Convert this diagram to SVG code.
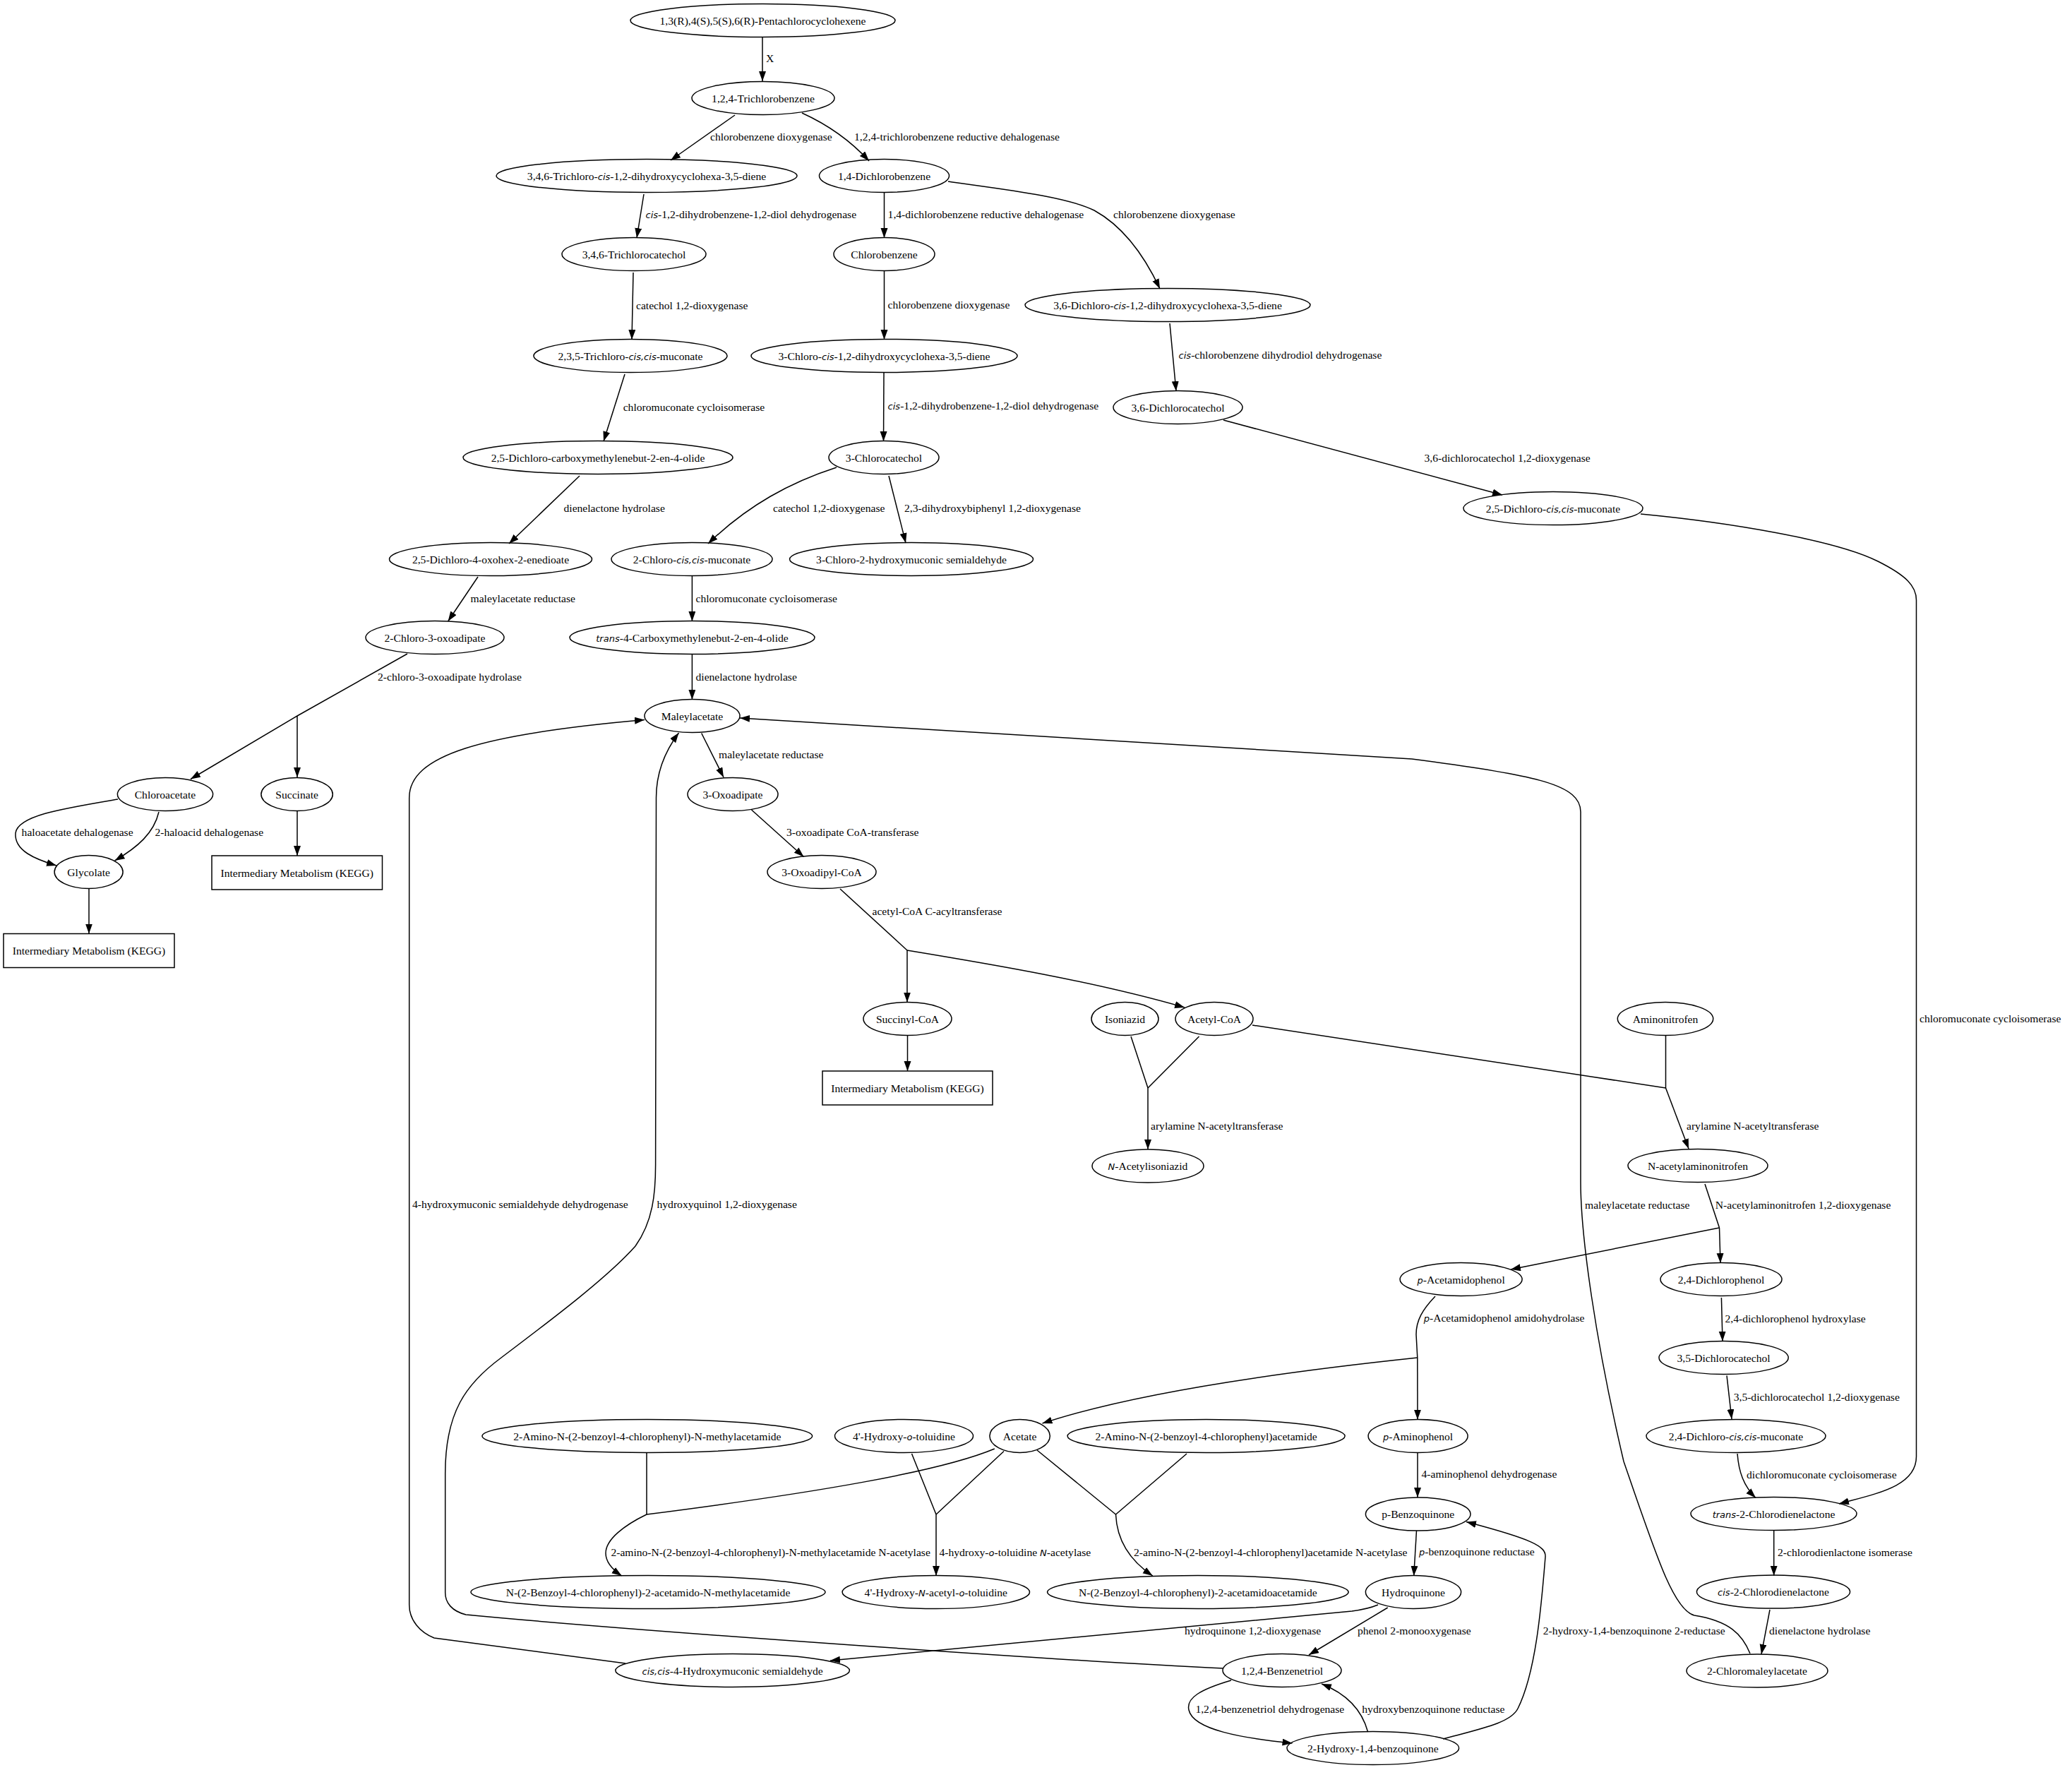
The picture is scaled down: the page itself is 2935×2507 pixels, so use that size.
<svg xmlns="http://www.w3.org/2000/svg" width="2935" height="2507" viewBox="0 0 2935 2507">
<defs>
<marker id="ah" markerUnits="userSpaceOnUse" markerWidth="16" markerHeight="12" refX="14" refY="5" orient="auto">
<path d="M0,0 L14,5 L0,10 z" fill="#000"/>
</marker>
</defs>
<style>
text{font-family:"Liberation Serif","Times New Roman",serif;font-size:15.6px;fill:#000}
.node text{text-anchor:middle}
.node ellipse,.node rect{fill:none;stroke:#000;stroke-width:1.5}
.i{font-family:"DejaVu Sans","Liberation Sans",sans-serif;font-style:italic;font-size:13px}
#edges path{fill:none;stroke:#000;stroke-width:1.5}
#edges path.a{marker-end:url(#ah)}
</style>
<rect width="2935" height="2507" fill="#fff"/>
<g id="edges">
<path class="a" d="M1080,53 L1080,115"/>
<path class="a" d="M1041,163 L950,227"/>
<path class="a" d="M1136,160 C1180,180 1210,205 1231,228"/>
<path class="a" d="M912,275 L902,337"/>
<path class="a" d="M1252.5,273 L1252.5,337"/>
<path class="a" d="M1343,257 C1420,268 1510,278 1550,298 C1590,320 1620,360 1643,409"/>
<path class="a" d="M897,386 L895,481"/>
<path class="a" d="M1252.5,384 L1252.5,481"/>
<path class="a" d="M1657,458 L1666,554"/>
<path class="a" d="M885,530 L855,625"/>
<path class="a" d="M1252,528 L1251.5,625"/>
<path class="a" d="M1733,595 L2128,701"/>
<path class="a" d="M821,674 L721,770"/>
<path class="a" d="M1185,662 C1120,683 1060,715 1003,770"/>
<path class="a" d="M1259,674 L1283,769"/>
<path class="a" d="M2324,728 C2450,740 2600,765 2660,795 C2700,815 2714.5,830 2714.5,850 L2714.5,2063 C2714.5,2105 2660,2115 2605,2130"/>
<path class="a" d="M677,817 L634.6,880"/>
<path class="a" d="M980.4,816 L980.4,880"/>
<path class="a" d="M577,926 L421,1014 L270,1103.5"/>
<path class="a" d="M421,1014 L421,1101"/>
<path class="a" d="M980.4,927 L980.4,991"/>
<path class="a" d="M167,1132 C90,1145 25,1155 22,1180 C20,1205 50,1217 80,1226"/>
<path class="a" d="M225,1150 C218,1180 195,1200 162.6,1219"/>
<path class="a" d="M421,1149 L421,1212"/>
<path class="a" d="M993.7,1038.5 L1025,1101"/>
<path class="a" d="M126,1259 L126,1322.5"/>
<path class="a" d="M1064.5,1147 L1138.5,1213.5"/>
<path d="M1190,1259 L1285,1346"/>
<path class="a" d="M1285,1346 L1285,1419.5"/>
<path class="a" d="M1285,1346 C1400,1365 1550,1390 1678,1427"/>
<path class="a" d="M1285.5,1466.5 L1285.5,1517"/>
<path d="M1602,1468 L1626,1541 M1698.5,1468 L1626,1541"/>
<path class="a" d="M1626,1541 L1626,1628"/>
<path d="M1774,1452 L2359.5,1541 M2359.5,1467 L2359.5,1541"/>
<path class="a" d="M2359.5,1541 L2392,1627"/>
<path class="a" d="M2479,2342 C2468,2315 2450,2296 2400,2288 C2370,2280 2345,2200 2300,2070 C2260,1900 2239,1750 2239,1674 L2239,1150 C2239,1112 2180,1098 2000,1075 L1048,1017"/>
<path d="M2415,1677 L2435.5,1739"/>
<path class="a" d="M2435.5,1739 L2437,1789"/>
<path class="a" d="M2435.5,1739 L2140,1798"/>
<path class="a" d="M2438.4,1838 L2440,1899.7"/>
<path class="a" d="M2446,1948.4 L2453,2010"/>
<path class="a" d="M2461,2059 C2463,2085 2470,2105 2487,2121.5"/>
<path class="a" d="M2512.7,2168 L2512.7,2231.8"/>
<path class="a" d="M2507,2280 L2495,2343"/>
<path d="M2033,1836 C2015,1855 2006,1870 2006,1890 L2007.8,1923"/>
<path class="a" d="M2007.8,1923 L2008,2010.7"/>
<path class="a" d="M2007.8,1923 C1800,1945 1600,1975 1476.5,2016"/>
<path class="a" d="M2008,2057.5 L2008,2121"/>
<path class="a" d="M2006.5,2168 L2002.7,2232"/>
<path d="M1408.8,2052 C1330,2085 1150,2115 916,2145 M916,2058 L916,2145"/>
<path class="a" d="M916,2145 C885,2160 858,2180 858,2200 C858,2212 866,2222 880.7,2232"/>
<path d="M1291.5,2059 L1326,2145 M1422,2055.5 L1326,2145"/>
<path class="a" d="M1326,2145 L1326,2232"/>
<path d="M1469,2054 L1580.5,2145 M1681,2059 L1580.5,2145"/>
<path class="a" d="M1580.5,2145 C1582,2180 1600,2210 1632.8,2232"/>
<path class="a" d="M1952,2273 C1940,2278 1930,2280 1915,2282 L1176,2352"/>
<path class="a" d="M1965.7,2277 L1854,2344"/>
<path class="a" d="M1733,2363 C1500,2352 900,2310 660,2287 C640,2282 630.7,2270 630.7,2256 L630.7,2087 C630.7,2000 660,1960 710,1923 C780,1870 860,1810 900,1765 C925,1730 928.6,1690 928.6,1650 L929.5,1130 C929.5,1090 945,1060 961.5,1038"/>
<path class="a" d="M886,2356 L615,2320 C595,2312 579.7,2295 579.7,2273 L579.7,1130 C579.7,1070 680,1040 913,1019.5"/>
<path class="a" d="M2044,2463 C2100,2448 2140,2440 2150,2420 C2175,2370 2183,2280 2189,2205 C2190,2190 2170,2180 2077,2155.5"/>
<path class="a" d="M1744,2380 C1700,2393 1680,2405 1684,2422 C1690,2450 1760,2462 1830.5,2469"/>
<path class="a" d="M1937.6,2453 C1930,2425 1910,2400 1872,2385"/>
</g>
<g id="edge-labels">
<text x="1085" y="88">X</text>
<text x="1006" y="199">chlorobenzene dioxygenase</text>
<text x="1210" y="199">1,2,4-trichlorobenzene reductive dehalogenase</text>
<text x="914.5" y="308.5"><tspan class="i">cis</tspan>-1,2-dihydrobenzene-1,2-diol dehydrogenase</text>
<text x="1257.6" y="309">1,4-dichlorobenzene reductive dehalogenase</text>
<text x="1577" y="309">chlorobenzene dioxygenase</text>
<text x="901" y="437.5">catechol 1,2-dioxygenase</text>
<text x="1257.6" y="437">chlorobenzene dioxygenase</text>
<text x="1669.6" y="507.5"><tspan class="i">cis</tspan>-chlorobenzene dihydrodiol dehydrogenase</text>
<text x="882.7" y="581.7">chloromuconate cycloisomerase</text>
<text x="1257.6" y="579.5"><tspan class="i">cis</tspan>-1,2-dihydrobenzene-1,2-diol dehydrogenase</text>
<text x="2017.5" y="653.5">3,6-dichlorocatechol 1,2-dioxygenase</text>
<text x="798.5" y="725.3">dienelactone hydrolase</text>
<text x="1095" y="725.3">catechol 1,2-dioxygenase</text>
<text x="1281" y="725">2,3-dihydroxybiphenyl 1,2-dioxygenase</text>
<text x="2719" y="1448">chloromuconate cycloisomerase</text>
<text x="666.5" y="852.7">maleylacetate reductase</text>
<text x="985.5" y="852.7">chloromuconate cycloisomerase</text>
<text x="535" y="963.8">2-chloro-3-oxoadipate hydrolase</text>
<text x="985.5" y="963.8">dienelactone hydrolase</text>
<text x="30.6" y="1184.4">haloacetate dehalogenase</text>
<text x="219.4" y="1184.4">2-haloacid dehalogenase</text>
<text x="1018" y="1073.8">maleylacetate reductase</text>
<text x="1114" y="1184.4">3-oxoadipate CoA-transferase</text>
<text x="1235.5" y="1295.5">acetyl-CoA C-acyltransferase</text>
<text x="1630" y="1600">arylamine N-acetyltransferase</text>
<text x="2389" y="1600">arylamine N-acetyltransferase</text>
<text x="2245" y="1711.8">maleylacetate reductase</text>
<text x="2429.8" y="1711.8">N-acetylaminonitrofen 1,2-dioxygenase</text>
<text x="2443.5" y="1872.5">2,4-dichlorophenol hydroxylase</text>
<text x="2455.7" y="1983.6">3,5-dichlorocatechol 1,2-dioxygenase</text>
<text x="2474" y="2093.5">dichloromuconate cycloisomerase</text>
<text x="2518" y="2204">2-chlorodienlactone isomerase</text>
<text x="2506" y="2315">dienelactone hydrolase</text>
<text x="2016.7" y="1872"><tspan class="i">p</tspan>-Acetamidophenol amidohydrolase</text>
<text x="2013.5" y="2093">4-aminophenol dehydrogenase</text>
<text x="2010" y="2203"><tspan class="i">p</tspan>-benzoquinone reductase</text>
<text x="865.4" y="2204">2-amino-N-(2-benzoyl-4-chlorophenyl)-N-methylacetamide N-acetylase</text>
<text x="1330.4" y="2204">4-hydroxy-<tspan class="i">o</tspan>-toluidine <tspan class="i">N</tspan>-acetylase</text>
<text x="1606" y="2204">2-amino-N-(2-benzoyl-4-chlorophenyl)acetamide N-acetylase</text>
<text x="1678" y="2315">hydroquinone 1,2-dioxygenase</text>
<text x="1923" y="2315">phenol 2-monooxygenase</text>
<text x="930.5" y="1711">hydroxyquinol 1,2-dioxygenase</text>
<text x="584" y="1711">4-hydroxymuconic semialdehyde dehydrogenase</text>
<text x="2185.7" y="2315">2-hydroxy-1,4-benzoquinone 2-reductase</text>
<text x="1693.4" y="2425.6">1,2,4-benzenetriol dehydrogenase</text>
<text x="1929.3" y="2425.6">hydroxybenzoquinone reductase</text>
</g>
<g id="n1" class="node"><ellipse cx="1080.5" cy="29" rx="187.5" ry="23.5"/><text x="1080.5" y="34.5">1,3(R),4(S),5(S),6(R)-Pentachlorocyclohexene</text></g>
<g id="n2" class="node"><ellipse cx="1081" cy="139" rx="101" ry="23.5"/><text x="1081" y="144.5">1,2,4-Trichlorobenzene</text></g>
<g id="n3" class="node"><ellipse cx="916" cy="249" rx="213" ry="23.5"/><text x="916" y="254.5">3,4,6-Trichloro-<tspan class="i">cis</tspan>-1,2-dihydroxycyclohexa-3,5-diene</text></g>
<g id="n4" class="node"><ellipse cx="1252.5" cy="249" rx="92" ry="23.5"/><text x="1252.5" y="254.5">1,4-Dichlorobenzene</text></g>
<g id="n5" class="node"><ellipse cx="898" cy="360" rx="102" ry="23.5"/><text x="898" y="365.5">3,4,6-Trichlorocatechol</text></g>
<g id="n6" class="node"><ellipse cx="1252.5" cy="360" rx="71.5" ry="23.5"/><text x="1252.5" y="365.5">Chlorobenzene</text></g>
<g id="n7" class="node"><ellipse cx="1654" cy="432" rx="202" ry="23.5"/><text x="1654" y="437.5">3,6-Dichloro-<tspan class="i">cis</tspan>-1,2-dihydroxycyclohexa-3,5-diene</text></g>
<g id="n8" class="node"><ellipse cx="893" cy="504" rx="137" ry="23.5"/><text x="893" y="509.5">2,3,5-Trichloro-<tspan class="i">cis,cis</tspan>-muconate</text></g>
<g id="n9" class="node"><ellipse cx="1252.5" cy="504" rx="188.5" ry="23.5"/><text x="1252.5" y="509.5">3-Chloro-<tspan class="i">cis</tspan>-1,2-dihydroxycyclohexa-3,5-diene</text></g>
<g id="n10" class="node"><ellipse cx="1668.5" cy="577" rx="91.5" ry="23.5"/><text x="1668.5" y="582.5">3,6-Dichlorocatechol</text></g>
<g id="n11" class="node"><ellipse cx="847" cy="648" rx="191" ry="23.5"/><text x="847" y="653.5">2,5-Dichloro-carboxymethylenebut-2-en-4-olide</text></g>
<g id="n12" class="node"><ellipse cx="1252" cy="648" rx="78" ry="23.5"/><text x="1252" y="653.5">3-Chlorocatechol</text></g>
<g id="n13" class="node"><ellipse cx="2200" cy="720" rx="127" ry="23.5"/><text x="2200" y="725.5">2,5-Dichloro-<tspan class="i">cis,cis</tspan>-muconate</text></g>
<g id="n14" class="node"><ellipse cx="695" cy="792" rx="143.5" ry="23.5"/><text x="695" y="797.5">2,5-Dichloro-4-oxohex-2-enedioate</text></g>
<g id="n15" class="node"><ellipse cx="980" cy="792" rx="114" ry="23.5"/><text x="980" y="797.5">2-Chloro-<tspan class="i">cis,cis</tspan>-muconate</text></g>
<g id="n16" class="node"><ellipse cx="1291" cy="792" rx="172.5" ry="23.5"/><text x="1291" y="797.5">3-Chloro-2-hydroxymuconic semialdehyde</text></g>
<g id="n17" class="node"><ellipse cx="616" cy="903" rx="98" ry="23.5"/><text x="616" y="908.5">2-Chloro-3-oxoadipate</text></g>
<g id="n18" class="node"><ellipse cx="980.5" cy="903" rx="173.5" ry="23.5"/><text x="980.5" y="908.5"><tspan class="i">trans</tspan>-4-Carboxymethylenebut-2-en-4-olide</text></g>
<g id="n19" class="node"><ellipse cx="980.5" cy="1014" rx="67.5" ry="23.5"/><text x="980.5" y="1019.5">Maleylacetate</text></g>
<g id="n20" class="node"><ellipse cx="234" cy="1125" rx="67.6" ry="23.5"/><text x="234" y="1130.5">Chloroacetate</text></g>
<g id="n21" class="node"><ellipse cx="420.6" cy="1125" rx="50.7" ry="23.5"/><text x="420.6" y="1130.5">Succinate</text></g>
<g id="n22" class="node"><ellipse cx="1038" cy="1125" rx="64" ry="23.5"/><text x="1038" y="1130.5">3-Oxoadipate</text></g>
<g id="n23" class="node"><ellipse cx="125.6" cy="1235" rx="48.5" ry="23.5"/><text x="125.6" y="1240.5">Glycolate</text></g>
<g id="n24" class="node"><rect x="300" y="1212" width="241.5" height="48"/><text x="420.7" y="1241.5">Intermediary Metabolism (KEGG)</text></g>
<g id="n25" class="node"><ellipse cx="1164" cy="1235" rx="77" ry="23.5"/><text x="1164" y="1240.5">3-Oxoadipyl-CoA</text></g>
<g id="n26" class="node"><rect x="5" y="1322.5" width="242" height="48"/><text x="126" y="1352">Intermediary Metabolism (KEGG)</text></g>
<g id="n27" class="node"><ellipse cx="1285.5" cy="1443" rx="62.5" ry="23.5"/><text x="1285.5" y="1448.5">Succinyl-CoA</text></g>
<g id="n28" class="node"><ellipse cx="1593.5" cy="1443" rx="47.5" ry="23.5"/><text x="1593.5" y="1448.5">Isoniazid</text></g>
<g id="n29" class="node"><ellipse cx="1720" cy="1443" rx="55" ry="23.5"/><text x="1720" y="1448.5">Acetyl-CoA</text></g>
<g id="n30" class="node"><ellipse cx="2359" cy="1443" rx="67.7" ry="23.5"/><text x="2359" y="1448.5">Aminonitrofen</text></g>
<g id="n31" class="node"><rect x="1165" y="1517" width="241" height="48"/><text x="1285.5" y="1546.5">Intermediary Metabolism (KEGG)</text></g>
<g id="n32" class="node"><ellipse cx="1626" cy="1651.5" rx="79" ry="23.5"/><text x="1626" y="1657"><tspan class="i">N</tspan>-Acetylisoniazid</text></g>
<g id="n33" class="node"><ellipse cx="2405" cy="1651" rx="99" ry="23.5"/><text x="2405" y="1656.5">N-acetylaminonitrofen</text></g>
<g id="n34" class="node"><ellipse cx="2069.6" cy="1812" rx="86.5" ry="23.5"/><text x="2069.6" y="1817.5"><tspan class="i">p</tspan>-Acetamidophenol</text></g>
<g id="n35" class="node"><ellipse cx="2438" cy="1812" rx="86" ry="23.5"/><text x="2438" y="1817.5">2,4-Dichlorophenol</text></g>
<g id="n36" class="node"><ellipse cx="2441.6" cy="1923" rx="91.6" ry="23.5"/><text x="2441.6" y="1928.5">3,5-Dichlorocatechol</text></g>
<g id="n37" class="node"><ellipse cx="916.8" cy="2034" rx="233.8" ry="23.5"/><text x="916.8" y="2039.5">2-Amino-N-(2-benzoyl-4-chlorophenyl)-N-methylacetamide</text></g>
<g id="n38" class="node"><ellipse cx="1280.5" cy="2034" rx="98" ry="23.5"/><text x="1280.5" y="2039.5">4'-Hydroxy-<tspan class="i">o</tspan>-toluidine</text></g>
<g id="n39" class="node"><ellipse cx="1444.6" cy="2034" rx="42.7" ry="23.5"/><text x="1444.6" y="2039.5">Acetate</text></g>
<g id="n40" class="node"><ellipse cx="1708.6" cy="2034" rx="196.5" ry="23.5"/><text x="1708.6" y="2039.5">2-Amino-N-(2-benzoyl-4-chlorophenyl)acetamide</text></g>
<g id="n41" class="node"><ellipse cx="2008.6" cy="2034" rx="70.5" ry="23.5"/><text x="2008.6" y="2039.5"><tspan class="i">p</tspan>-Aminophenol</text></g>
<g id="n42" class="node"><ellipse cx="2459" cy="2034" rx="127" ry="23.5"/><text x="2459" y="2039.5">2,4-Dichloro-<tspan class="i">cis,cis</tspan>-muconate</text></g>
<g id="n43" class="node"><ellipse cx="2008.7" cy="2144.6" rx="74.3" ry="23.5"/><text x="2008.7" y="2150">p-Benzoquinone</text></g>
<g id="n44" class="node"><ellipse cx="2512.5" cy="2144" rx="117.5" ry="23.5"/><text x="2512.5" y="2149.5"><tspan class="i">trans</tspan>-2-Chlorodienelactone</text></g>
<g id="n45" class="node"><ellipse cx="918" cy="2255" rx="251" ry="23.5"/><text x="918" y="2260.5">N-(2-Benzoyl-4-chlorophenyl)-2-acetamido-N-methylacetamide</text></g>
<g id="n46" class="node"><ellipse cx="1325.8" cy="2255" rx="132.7" ry="23.5"/><text x="1325.8" y="2260.5">4'-Hydroxy-<tspan class="i">N</tspan>-acetyl-<tspan class="i">o</tspan>-toluidine</text></g>
<g id="n47" class="node"><ellipse cx="1696.8" cy="2255" rx="213.3" ry="23.5"/><text x="1696.8" y="2260.5">N-(2-Benzoyl-4-chlorophenyl)-2-acetamidoacetamide</text></g>
<g id="n48" class="node"><ellipse cx="2002" cy="2255" rx="67.6" ry="23.5"/><text x="2002" y="2260.5">Hydroquinone</text></g>
<g id="n49" class="node"><ellipse cx="2512" cy="2254.6" rx="108.6" ry="23.5"/><text x="2512" y="2260"><tspan class="i">cis</tspan>-2-Chlorodienelactone</text></g>
<g id="n50" class="node"><ellipse cx="1037.6" cy="2366" rx="165.8" ry="23.5"/><text x="1037.6" y="2371.5"><tspan class="i">cis,cis</tspan>-4-Hydroxymuconic semialdehyde</text></g>
<g id="n51" class="node"><ellipse cx="1816" cy="2366" rx="84" ry="23.5"/><text x="1816" y="2371.5">1,2,4-Benzenetriol</text></g>
<g id="n52" class="node"><ellipse cx="2489" cy="2366.5" rx="100" ry="23.5"/><text x="2489" y="2372">2-Chloromaleylacetate</text></g>
<g id="n53" class="node"><ellipse cx="1944.8" cy="2476" rx="121.8" ry="23.5"/><text x="1944.8" y="2481.5">2-Hydroxy-1,4-benzoquinone</text></g>
</svg>
